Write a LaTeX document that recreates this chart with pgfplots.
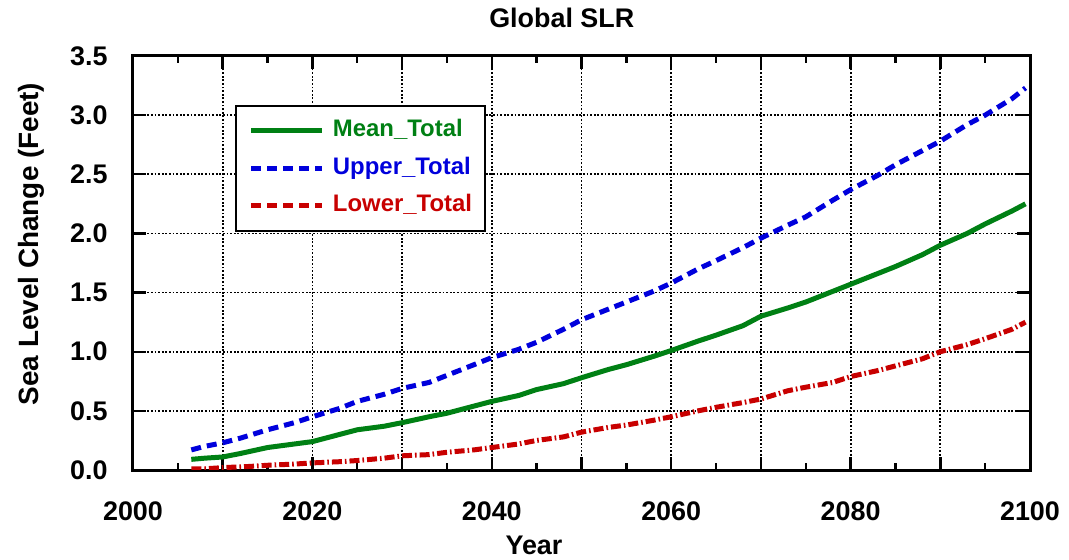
\documentclass[border=0pt]{standalone}
\usepackage{fontspec}
\setmainfont{Liberation Sans}
\usepackage{pgfplots}
\pgfplotsset{compat=1.18}
\definecolor{mgreen}{RGB}{0,128,20}
\definecolor{mblue}{RGB}{0,0,220}
\definecolor{mred}{RGB}{200,0,0}
\newcommand{\lf}{\fontsize{13.5}{16}\selectfont\bfseries}
\newcommand{\lgf}{\fontsize{12}{14}\selectfont\bfseries}
\begin{document}
\begin{tikzpicture}
\path[use as bounding box] (-66.5bp,-45bp) rectangle (468bp,235bp);
\begin{axis}[
  at={(0,0)}, anchor=south west,
  scale only axis, width=448.5bp, height=207bp,
  xmin=2000, xmax=2100, ymin=0, ymax=3.5,
  xtick={2000,2010,...,2100},
  xticklabels={2000,,2020,,2040,,2060,,2080,,2100},
  minor x tick num=1,
  ytick={0,0.5,...,3.5},
  yticklabel style={/pgf/number format/fixed,/pgf/number format/fixed zerofill,/pgf/number format/precision=1,
     anchor=east, inner sep=0pt, xshift=-12.5bp},
  xticklabel style={/pgf/number format/1000 sep={}, anchor=base, inner sep=0pt, yshift=-25bp},
  /pgf/number format/assume math mode=true,
  tick label style={font=\lf},
  tick align=inside,
  major tick length=6.5bp, minor tick length=3.5bp,
  every tick/.style={black, line width=1.2bp},
  axis line style={line width=1.5bp},
  grid=major,
  major grid style={black, line width=0.9bp, dash pattern=on 0.9bp off 0.9bp},
  title={Global SLR},
  title style={at={(axis description cs:0.478,1.070)}, anchor=base, yshift=-6pt, font=\lf, inner sep=0pt},
  xlabel={Year},
  xlabel style={at={(axis description cs:0.447,-0.2029)}, anchor=base, font=\lf, inner sep=0pt},
  ylabel={Sea Level Change (Feet)},
  ylabel style={at={(axis description cs:-0.1059,0.546)}, anchor=base, font=\fontsize{14}{16}\selectfont\bfseries, inner sep=0pt},
  legend image code/.code={\draw[#1] (0bp,0bp) -- (35.5bp,0bp);},
  legend cell align=left,
  legend style={at={(axis description cs:0.1137,0.882)}, anchor=north west,
     draw=black, line width=1bp, fill=white,
     inner xsep=6.5bp, inner ysep=6.5bp, row sep=6.75bp, column sep=4bp,
     font=\lgf,
     nodes={inner sep=0pt, text height=9bp, text depth=3bp}},
]
\addplot[mgreen, line width=2.5bp] coordinates {
(2006.5,0.09) (2008,0.10) (2010,0.11) (2012,0.14) (2015,0.19) (2018,0.22) (2020,0.24)
(2023,0.30) (2025,0.34) (2028,0.37) (2030,0.40) (2033,0.45) (2035,0.48) (2038,0.54)
(2040,0.58) (2043,0.63) (2045,0.68) (2048,0.73) (2050,0.78) (2053,0.85) (2055,0.89)
(2058,0.96) (2060,1.01) (2063,1.09) (2065,1.14) (2068,1.22) (2070,1.30) (2073,1.37)
(2075,1.42) (2078,1.51) (2080,1.57) (2083,1.66) (2085,1.72) (2088,1.82) (2090,1.90)
(2093,2.00) (2095,2.08) (2098,2.19) (2099.5,2.25)
};
\addlegendentry{\textcolor{mgreen}{Mean\_Total}}
\addplot[mblue, line width=2.5bp, dash pattern=on 5bp off 3bp] coordinates {
(2006.5,0.17) (2008,0.20) (2010,0.23) (2012,0.27) (2015,0.34) (2018,0.40) (2020,0.45)
(2023,0.52) (2025,0.58) (2028,0.64) (2030,0.69) (2033,0.74) (2035,0.80) (2038,0.89)
(2040,0.95) (2043,1.02) (2045,1.08) (2048,1.19) (2050,1.27) (2053,1.36) (2055,1.42)
(2058,1.51) (2060,1.58) (2063,1.70) (2065,1.77) (2068,1.88) (2070,1.96) (2073,2.07)
(2075,2.14) (2078,2.28) (2080,2.37) (2083,2.49) (2085,2.58) (2088,2.70) (2090,2.78)
(2093,2.92) (2095,3.00) (2098,3.14) (2099.5,3.23)
};
\addlegendentry{\textcolor{mblue}{Upper\_Total}}
\addplot[mred, line width=2.5bp, dash pattern=on 5bp off 1.5bp on 0.8bp off 1.5bp,
  legend image code/.code={\draw[mred, line width=2.5bp, dash pattern=on 5bp off 3bp] (0bp,0bp) -- (35.5bp,0bp);}] coordinates {
(2006.5,0.01) (2008,0.01) (2010,0.02) (2013,0.03) (2015,0.04) (2018,0.05) (2020,0.06)
(2023,0.07) (2025,0.08) (2028,0.10) (2030,0.12) (2033,0.13) (2035,0.15) (2038,0.17)
(2040,0.19) (2043,0.22) (2045,0.25) (2048,0.28) (2050,0.32) (2053,0.36) (2055,0.38)
(2058,0.42) (2060,0.45) (2063,0.50) (2065,0.53) (2068,0.57) (2070,0.60) (2073,0.67)
(2075,0.70) (2078,0.74) (2080,0.79) (2083,0.84) (2085,0.88) (2088,0.94) (2090,1.00)
(2093,1.06) (2095,1.11) (2098,1.19) (2099.5,1.25)
};
\addlegendentry{\textcolor{mred}{Lower\_Total}}
\end{axis}
\end{tikzpicture}
\end{document}
